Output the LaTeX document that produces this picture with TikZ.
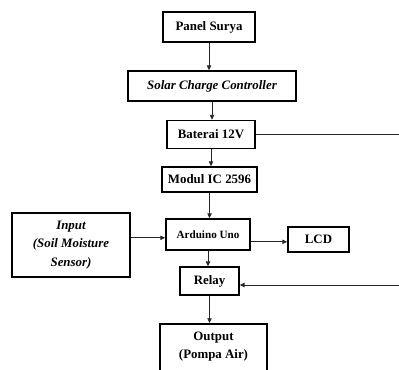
\documentclass[tikz,border=0pt]{standalone}
\usepackage{fontspec}
\setmainfont{Liberation Serif}
\usetikzlibrary{positioning, arrows.meta, calc}

\begin{document}
\begin{tikzpicture}[x=0.3mm, y=-0.3mm,
  blok/.style={rectangle, draw=black, line width=1.5pt, fill=white, align=center, inner sep=1pt, font=\fontsize{11}{16}\selectfont\bfseries},
  blokit/.style={blok, font=\fontsize{11}{16}\selectfont\bfseries\itshape},
  panah/.style={-{Triangle[length=1.4mm, width=1.3mm]}, line width=0.6pt, black!85}
]
  \useasboundingbox (0,0) rectangle (399,369);
  \clip (0,0) rectangle (399,369);

  \node[blok, minimum width=27.6mm, minimum height=9mm] (panel) at (209,27) {Panel Surya};
  \node[blokit, minimum width=50.4mm, minimum height=9mm] (scc) at (212,86) {Solar Charge Controller};
  \node[blok, minimum width=26.4mm, minimum height=8.4mm] (bat) at (211,134.5) {Baterai 12V};
  \node[blok, minimum width=28.5mm, minimum height=7.5mm] (modul) at (209.5,179.5) {Modul IC 2596};
  \node[blok, minimum width=25.2mm, minimum height=9.3mm, font=\fontsize{9.5}{12}\selectfont\bfseries] (arduino) at (208,234.5) {Arduino Uno};
  \node[blok, minimum width=18.3mm, minimum height=7.5mm] (lcd) at (318.5,239.5) {LCD};
  \node[blokit, minimum width=35.4mm, minimum height=19.2mm] (input) at (71,245) {Input\\(Soil Moisture\\Sensor)};
  \node[blok, minimum width=17.7mm, minimum height=8.4mm] (relay) at (209.5,281) {Relay};
  \node[blok, minimum width=32.1mm, inner ysep=2.3mm, anchor=north] (output) at (213.5,323) {Output\\(Pompa Air)\\\mbox{}};

  \coordinate (kanan) at (430,0);

  \foreach \a/\b in {panel/scc, scc/bat, bat/modul, modul/arduino, arduino/relay, relay/output} {
    \draw[panah] (\a.south) -- (\a.south |- \b.north);
  }
  \draw[panah] ([yshift=-1mm]arduino.west -| input.east) -- ([yshift=-1mm]arduino.west);
  \draw[panah] ([yshift=-2.2mm]arduino.east) -- ([yshift=-2.2mm]arduino.east -| lcd.west);
  \draw[panah] (bat.east) -- (bat.east -| kanan) |- ([yshift=-1.2mm]relay.east);
\end{tikzpicture}
\end{document}
